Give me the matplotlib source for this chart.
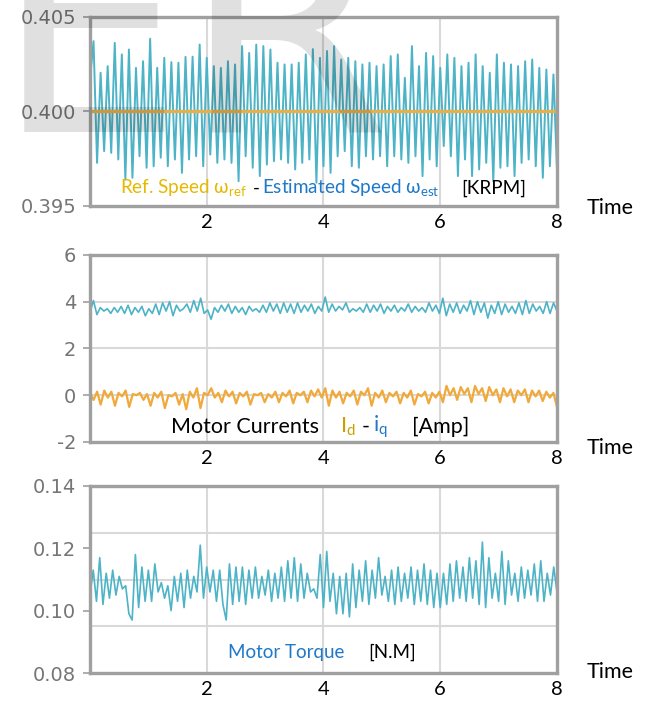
import numpy as np
import matplotlib
matplotlib.use("Agg")
import matplotlib.pyplot as plt
from matplotlib.ticker import FormatStrFormatter

plt.rcParams['mathtext.fontset'] = 'custom'
plt.rcParams['mathtext.rm'] = 'Lato'
LBL = ['Lato', 'DejaVu Sans']

# speed panel (offsets from 0.400 in 1e-3 KRPM)
ref_speed = 0.400
speed_start = 1.7
speed_peaks = [3.72, 2.05, 2.40, 3.63, 3.02, 3.28, 2.31, 2.66, 3.85, 2.31, 2.84, 2.61,
               2.58, 2.89, 2.90, 3.54, 2.84, 2.40, 2.31, 2.66, 2.49, 3.46, 3.10, 3.54,
               3.46, 3.28, 2.58, 2.49, 2.49, 2.58, 3.02, 3.30, 2.84, 3.20,
               3.46, 2.75, 2.84, 2.66, 2.49, 2.58, 2.40, 2.49, 2.93, 3.02, 1.78, 3.46,
               2.40, 3.10, 2.93, 2.31, 3.02, 2.84, 2.40, 2.58, 3.02, 2.40, 2.05, 3.02,
               2.58, 2.49, 2.40, 2.66, 2.75, 2.31, 2.22, 1.96]
speed_troughs = [-2.72, -2.10, -2.19, -2.54, -3.60, -3.51, -2.37, -2.98, -2.90, -2.45, -2.90, -2.54,
                 -3.25, -2.54, -2.37, -2.90, -2.28, -2.72, -2.54, -2.72, -3.69, -2.37, -2.98, -3.42,
                 -2.81, -2.63, -2.54, -2.72, -3.07, -2.72, -2.54, -3.77, -2.90, -3.25,
                 -2.37, -2.10, -2.90, -2.98, -2.37, -2.54, -2.37, -2.90, -2.37, -2.54, -2.72, -2.37,
                 -3.42, -2.54, -2.90, -1.83, -2.37, -3.42, -2.54, -3.42, -3.07, -2.72, -3.69, -2.98,
                 -2.90, -3.42, -2.72, -2.54, -2.90, -3.51, -2.90, -3.07]

# currents panel
iq = [3.55, 4.05, 3.45, 3.75, 3.6, 3.7, 3.5, 3.75, 3.55, 3.8, 3.5, 3.85, 3.45, 3.75, 3.55, 3.8, 3.4, 3.7,
      3.5, 3.9, 3.45, 3.95, 3.6, 4.0, 3.4, 3.85, 3.6, 3.7, 3.9, 3.55, 4.05, 3.6, 4.15, 3.5, 3.65, 3.25,
      3.75, 3.55, 3.85, 3.6, 3.9, 3.5, 3.8, 3.55, 3.75, 3.45, 3.8, 3.6, 3.7, 3.55, 3.85, 3.55, 3.95, 3.6,
      3.9, 3.5, 3.95, 3.55, 3.9, 3.5, 3.95, 3.55, 3.85, 3.6, 3.9, 3.5, 3.8, 3.6, 4.2, 3.55,
      3.9, 3.6, 3.8, 3.65, 3.95, 3.55, 3.7, 3.6, 3.75, 3.55, 3.9, 3.55, 3.85, 3.6, 3.9, 3.5, 3.8, 3.6,
      3.85, 3.55, 3.75, 3.6, 3.9, 3.55, 3.8, 3.6, 3.75, 3.55, 3.95, 3.6, 3.85, 3.5,
      4.15, 3.4, 3.9, 3.55, 3.95, 3.5, 3.85, 3.6, 4.05, 3.45, 4.0, 3.55, 3.95, 3.3, 3.85, 3.5, 4.0, 3.45,
      3.9, 3.55, 3.8, 3.5, 3.95, 3.45, 4.05, 3.5, 3.9, 3.6, 3.8, 3.5, 4.0, 3.5, 3.95, 3.6]
id_ = [0.1, -0.2, 0.15, -0.4, 0.2, -0.1, 0.15, -0.45, 0.1, -0.05, 0.2, -0.5, 0.05, 0.0, 0.1, -0.2, 0.05,
       -0.45, 0.1, -0.1, 0.15, -0.55, 0.0, -0.05, 0.1, -0.4, 0.05, -0.6, 0.15, -0.1, 0.3, -0.55, 0.1, 0.0,
       0.3, -0.1, 0.1, -0.3, 0.2, -0.05, 0.15, -0.35, 0.1, -0.05, 0.15, -0.4, 0.05, 0.0, 0.1, -0.3, 0.05,
       -0.1, 0.15, -0.3, 0.1, -0.05, 0.2, -0.35, 0.1, 0.0, 0.15, -0.3, 0.2, -0.05, 0.25, -0.1, 0.3, -0.45,
       0.2, -0.1, 0.15, -0.35, 0.1, -0.05, 0.2, -0.4, 0.15, 0.0, 0.3, -0.45, 0.1, -0.1, 0.2, -0.3, 0.1,
       -0.05, 0.15, -0.35, 0.1, -0.1, 0.2, -0.4, 0.05, -0.05, 0.15, -0.35, 0.1, -0.1, 0.15, -0.3,
       0.4, 0.0, 0.3, -0.2, 0.35, 0.05, 0.3, -0.3, 0.4, 0.05, 0.3, -0.25, 0.35, 0.0, 0.25, -0.3, 0.3,
       -0.05, 0.25, -0.3, 0.2, 0.0, 0.25, -0.3, 0.2, -0.05, 0.2, -0.25, 0.15, -0.1, 0.1, -0.5]

# torque panel
torque = [0.105, 0.113, 0.103, 0.117, 0.102, 0.112, 0.104, 0.113, 0.105, 0.111, 0.107, 0.108, 0.099, 0.097,
          0.118, 0.101, 0.114, 0.103, 0.113, 0.103, 0.115, 0.106, 0.109, 0.104, 0.108, 0.100, 0.111, 0.103,
          0.112, 0.101, 0.113, 0.104, 0.111, 0.106, 0.121, 0.104, 0.114, 0.106, 0.113, 0.103, 0.113, 0.102,
          0.097,
          0.115, 0.102, 0.114, 0.103, 0.114, 0.102, 0.113, 0.104, 0.114, 0.104, 0.111, 0.105, 0.113, 0.103,
          0.112, 0.104, 0.114, 0.103, 0.116, 0.104, 0.117, 0.103, 0.115, 0.104, 0.112, 0.106, 0.107, 0.104,
          0.118, 0.101, 0.119, 0.103, 0.112, 0.099,
          0.111, 0.099, 0.112, 0.098, 0.115, 0.101, 0.113, 0.103, 0.116, 0.102, 0.113, 0.104, 0.117, 0.105,
          0.111, 0.103, 0.113, 0.102, 0.114, 0.103, 0.112, 0.104, 0.114, 0.102, 0.113, 0.103, 0.115, 0.102,
          0.113, 0.101, 0.112, 0.101,
          0.112, 0.102, 0.115, 0.103, 0.116, 0.104, 0.114, 0.103, 0.117, 0.104, 0.116, 0.102, 0.122, 0.101,
          0.117, 0.104, 0.112, 0.103, 0.119, 0.102, 0.116, 0.105, 0.112, 0.103, 0.114, 0.104, 0.113, 0.105,
          0.115, 0.103, 0.116, 0.103, 0.112, 0.105, 0.114, 0.106]

x_ticks = [2, 4, 6, 8]

TEAL = '#4db3c6'
ORANGE = '#f0a93a'
GOLD = '#e6b800'
BLUE = '#1f78c8'
FRAME = '#a0a0a0'
GRID = '#d9d9d9'

fig = plt.figure(figsize=(6.46, 7.02), dpi=100)
ax1 = fig.add_axes([0.1393, 0.7066, 0.7229, 0.2692])
ax2 = fig.add_axes([0.1393, 0.3704, 0.7229, 0.2664])
ax3 = fig.add_axes([0.1393, 0.0413, 0.7229, 0.2664])


def style(ax, lo, hi, yt, fmt, hgrid, time_y):
    ax.set_xlim(0, 8)
    ax.set_ylim(lo, hi)
    ax.set_xticks(x_ticks)
    ax.set_yticks(yt)
    ax.yaxis.set_major_formatter(FormatStrFormatter(fmt))
    for v in x_ticks[:-1]:
        ax.axvline(v, color=GRID, lw=1.5, zorder=0)
    for v in hgrid:
        ax.axhline(v, color=GRID, lw=1.5, zorder=0)
    for s in ax.spines.values():
        s.set_color(FRAME)
        s.set_linewidth(2.4)
    ax.tick_params(axis='x', length=0, pad=6, labelsize=14.5)
    ax.tick_params(axis='y', length=5, width=1.2, color=FRAME, pad=5, labelsize=14, labelcolor='#757575')
    for lab in ax.get_xticklabels():
        lab.set_family(LBL)
    ax.text(1.113, time_y, 'Time', transform=ax.transAxes, ha='center', va='center',
            fontsize=15.5, family=LBL)


# panel 1
n1 = 1 + 2 * len(speed_peaks)
t1 = np.linspace(0, 8, n1)
sp = np.empty(n1)
sp[0] = speed_start
sp[1::2] = speed_peaks
sp[2::2] = speed_troughs
ax1.plot(t1, ref_speed + sp * 1e-3, color=TEAL, lw=1.4)
ax1.axhline(ref_speed, color='#e3b04b', lw=2.4)
style(ax1, 0.395, 0.405, [0.395, 0.400, 0.405], '%.3f', [0.400], -0.01)
fs1 = 13.6
ax1.text(0.064, 0.095, r'Ref. Speed ω$_{\rm ref}$', transform=ax1.transAxes, color=GOLD,
         fontsize=fs1, family=LBL, va='center')
ax1.text(0.349, 0.095, '-', transform=ax1.transAxes, color='black', fontsize=fs1, family=LBL, va='center')
ax1.text(0.368, 0.095, r'Estimated Speed ω$_{\rm est}$', transform=ax1.transAxes, color=BLUE,
         fontsize=fs1, family=LBL, va='center')
ax1.text(0.794, 0.095, '[KRPM]', transform=ax1.transAxes, color='black', fontsize=fs1, family=LBL,
         va='center')

# panel 2
ax2.plot(np.linspace(0, 8, len(iq)), iq, color=TEAL, lw=1.2)
ax2.plot(np.linspace(0, 8, len(id_)), id_, color=ORANGE, lw=1.6)
style(ax2, -2, 6, [-2, 0, 2, 4, 6], '%d', [0, 2, 4], -0.03)
fs2 = 15.5
ax2.text(0.173, 0.08, 'Motor Currents', transform=ax2.transAxes, fontsize=fs2, family=LBL, va='center')
ax2.text(0.535, 0.08, r'I$_{\rm d}$', transform=ax2.transAxes, color='#c9a000', fontsize=fs2, family=LBL,
         va='center')
ax2.text(0.582, 0.08, '-', transform=ax2.transAxes, fontsize=fs2, family=LBL, va='center')
ax2.text(0.606, 0.08, r'i$_{\rm q}$', transform=ax2.transAxes, color=BLUE, fontsize=fs2, family=LBL,
         va='center')
ax2.text(0.69, 0.08, '[Amp]', transform=ax2.transAxes, fontsize=fs2, family=LBL, va='center')

# panel 3
ax3.plot(np.linspace(0, 8, len(torque)), torque, color=TEAL, lw=1.2)
style(ax3, 0.08, 0.14, [0.08, 0.10, 0.12, 0.14], '%.2f', [0.095, 0.11, 0.125], 0.005)
ax3.text(0.296, 0.11, 'Motor Torque', transform=ax3.transAxes, color=BLUE, fontsize=13.5, family=LBL,
         va='center')
ax3.text(0.595, 0.11, '[N.M]', transform=ax3.transAxes, fontsize=13.5, family=LBL, va='center')

# watermark
fig.text(-0.008, 1 - 132 / 702, 'ER', fontsize=215, color='black', alpha=0.12, ha='left',
         va='baseline', family='DejaVu Sans', zorder=10)

fig.savefig('out.png', dpi=100)
